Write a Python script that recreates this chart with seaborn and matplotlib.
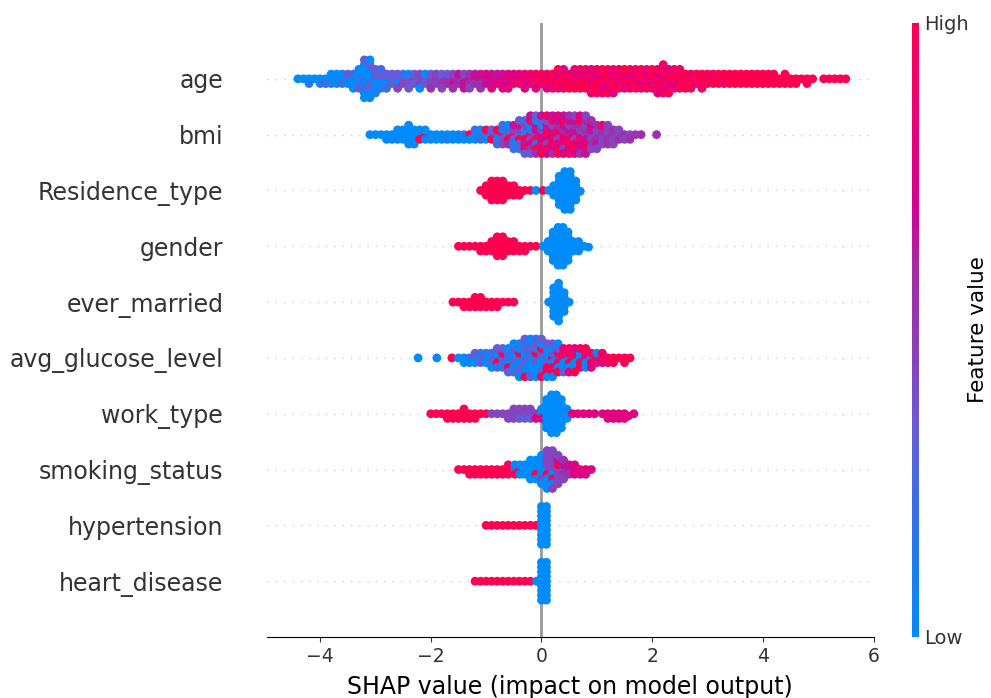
import numpy as np
import matplotlib
matplotlib.use('Agg')
import matplotlib.pyplot as plt
import pandas as pd
import seaborn as sns
from matplotlib.colors import LinearSegmentedColormap, Normalize
from matplotlib.cm import ScalarMappable

# feature names, top row first
features = ['age', 'bmi', 'Residence_type', 'gender', 'ever_married',
            'avg_glucose_level', 'work_type', 'smoking_status', 'hypertension', 'heart_disease']

# each row: shap value of a column, and the feature values (0 low .. 9 high) of the dots in it
age_x = [-4.4, -4.3, -4.2, -4.1, -4.0, -3.9, -3.8, -3.7, -3.6, -3.5,
         -3.4, -3.3, -3.2, -3.1, -3.0, -2.9, -2.8, -2.7, -2.6, -2.5,
         -2.4, -2.3, -2.2, -2.1, -2.0, -1.9, -1.8, -1.7, -1.6, -1.5,
         -1.4, -1.3, -1.2, -1.1, -1.0, -0.9, -0.8, -0.7, -0.6, -0.5,
         -0.4, -0.3, -0.2, -0.1, 0.0, 0.1, 0.2, 0.3, 0.4, 0.5,
         0.6, 0.7, 0.8, 0.9, 1.0, 1.1, 1.2, 1.3, 1.4, 1.5,
         1.6, 1.7, 1.8, 1.9, 2.0, 2.1, 2.2, 2.3, 2.4, 2.5,
         2.6, 2.7, 2.8, 2.9, 3.0, 3.1, 3.2, 3.3, 3.4, 3.5,
         3.6, 3.7, 3.8, 3.9, 4.0, 4.1, 4.2, 4.3, 4.4, 4.5,
         4.6, 4.7, 4.8, 4.9, 5.1, 5.2, 5.3, 5.4, 5.5]
age_v = [[0], [0], [0, 1], [0], [0, 1], [0, 2], [0, 1, 0], [1, 0, 0], [0, 2, 0], [1, 0, 3],
         [0, 0, 2, 0], [0, 1, 0, 3, 0], [3, 0, 0, 2, 0, 1, 0, 0, 3], [0, 2, 0, 3, 0, 1, 3, 0, 0], [2, 0, 3, 0, 3, 1],
         [3, 0, 3, 1, 2], [3, 0, 3, 2], [2, 3, 3], [3, 0, 3, 4], [3, 4, 2],
         [3, 4, 0, 3], [4, 3, 3], [3, 4, 4, 0], [4, 3, 0], [4, 4, 3, 5], [5, 4, 4], [4, 5, 3, 4], [5, 5, 3],
         [5, 6, 4, 5], [5, 5, 6],
         [5, 6, 4, 6], [6, 5, 5, 4], [6, 5, 6], [6, 5, 6, 5], [6, 6, 7], [7, 6, 6, 7], [6, 7, 6], [7, 7, 6, 7],
         [7, 6, 7, 7], [7, 8, 7],
         [7, 8, 7], [8, 7, 8, 7], [8, 7, 8], [8, 9, 8, 7], [8, 8, 9], [8, 9, 8, 7], [9, 8, 9, 8], [8, 9, 7, 8, 9],
         [8, 9, 9, 8, 7], [8, 9, 8, 9],
         [9, 8, 8, 9, 7], [8, 9, 7, 9, 8], [7, 9, 8, 9, 8], [9, 7, 8, 9, 7, 8], [8, 9, 7, 9, 8, 9], [7, 9, 8, 7, 9, 8],
         [9, 8, 9, 7, 8, 9], [8, 9, 7, 9, 8, 7], [9, 7, 8, 9, 8], [7, 9, 8, 7, 9],
         [8, 9, 7, 8, 9], [9, 8, 7, 9, 8], [8, 7, 9, 8, 9], [9, 8, 7, 9, 7], [8, 7, 9, 8, 9], [9, 8, 7, 9, 8, 7],
         [7, 9, 8, 7, 9, 8, 8], [8, 7, 9, 8, 7, 9], [9, 8, 9, 7, 8], [9, 8, 9, 9, 8],
         [8, 9, 9, 9], [9, 9, 8, 9], [9, 8, 9], [9, 9, 9, 8], [8, 9, 9], [9, 9, 8], [9, 9, 9], [9, 8, 9], [9, 9, 9],
         [9, 9, 9],
         [9, 9, 9], [9, 9, 9], [9, 9, 9], [9, 9, 9], [9, 9, 9], [9, 9, 9], [9, 9, 9], [9, 9], [9, 9, 9], [9, 9],
         [9, 9], [9], [9, 9], [9], [9], [9], [9], [9], [9]]

bmi_x = [-3.1, -3.0, -2.9, -2.8, -2.7, -2.6, -2.5, -2.4, -2.3, -2.2,
         -2.1, -2.0, -1.9, -1.8, -1.7, -1.6, -1.5, -1.4, -1.3, -1.2,
         -1.1, -1.0, -0.9, -0.8, -0.7, -0.6, -0.5, -0.4, -0.3, -0.2,
         -0.1, 0.0, 0.1, 0.2, 0.3, 0.4, 0.5, 0.6, 0.7, 0.8,
         0.9, 1.0, 1.1, 1.2, 1.3, 1.4, 1.5, 1.6, 1.7, 1.8, 2.08]
bmi_v = [[0], [0], [0], [0, 0], [0, 0], [0, 0, 0], [0, 0, 0], [0, 0, 0, 0, 0], [0, 0, 0, 0], [0, 9, 0],
         [9, 0, 0], [0, 0], [0, 0], [0, 0], [0, 1], [0, 0], [1, 0], [1, 0], [9, 0], [1, 0, 2],
         [0, 2, 0], [3, 0, 9], [2, 9, 3], [3, 0, 9, 2], [9, 3, 0, 4, 2], [3, 9, 2, 5, 0], [9, 3, 4, 0, 6, 2],
         [0, 9, 4, 3, 7, 2, 3], [3, 9, 0, 6, 4, 9, 2, 3], [9, 4, 2, 7, 0, 5, 9, 3, 6],
         [4, 9, 6, 2, 7, 9, 0, 5, 3], [9, 6, 4, 8, 0, 7, 3, 9, 6], [8, 7, 9, 4, 6, 9, 3, 7, 8],
         [7, 9, 6, 8, 4, 7, 9, 5, 6], [6, 4, 9, 7, 5, 8, 6, 9, 7], [9, 7, 5, 8, 6, 4, 9, 7, 6],
         [5, 8, 6, 9, 4, 7, 6, 8, 5], [7, 4, 6, 8, 5, 9, 6, 7, 4], [6, 8, 4, 7, 5, 6, 9, 5, 7], [4, 6, 5, 7, 4, 8, 5, 6, 4],
         [5, 4, 6, 5, 7, 4, 5], [4, 5, 4, 6, 5, 4], [5, 4, 5, 4, 8], [4, 5, 4, 5, 4], [5, 4, 5, 4], [4, 5, 4], [5, 4],
         [4, 5], [5], [5], [5]]

res_x = [-1.1, -1.0, -0.9, -0.8, -0.7, -0.6, -0.5, -0.4, -0.3, -0.2, -0.1, 0.03, 0.13,
         0.22, 0.32, 0.42, 0.52, 0.62, 0.7]
res_v = [[9], [9, 9, 9], [9] * 5, [9] * 5, [9] * 5, [9] * 3, [9] * 3, [9, 9], [9], [9], [0], [9], [0],
         [0] * 3, [0] * 7, [0] * 9, [0] * 9, [0] * 5, [0] * 1]

gender_x = [-1.5, -1.4, -1.3, -1.2, -1.1, -1.0, -0.9, -0.8, -0.7, -0.6, -0.5, -0.4, -0.3, -0.2, -0.1,
            0.03, 0.12, 0.21, 0.3, 0.39, 0.48, 0.57, 0.67, 0.77, 0.85]
gender_v = [[9], [9], [9], [9], [9, 9], [9, 9], [9] * 3, [9] * 5, [9] * 5, [9] * 3, [9] * 3, [9, 9], [9, 9], [9], [9],
            [0], [0] * 3, [0] * 7, [0] * 9, [0] * 9, [0] * 7, [0] * 3, [0] * 3, [0], [0]]

married_x = [-1.6, -1.5, -1.4, -1.3, -1.2, -1.1, -1.0, -0.9, -0.8, -0.7, -0.6, -0.5, 0.13, 0.22, 0.31, 0.41, 0.5]
married_v = [[9], [9], [9, 9], [9, 9], [9] * 3, [9] * 3, [9, 9], [9, 9], [9, 9], [9], [9], [9],
             [0], [0] * 7, [0] * 9, [0] * 5, [0]]

glucose_x = [-2.23, -1.89, -1.62, -1.5, -1.4, -1.3, -1.2, -1.1, -1.0, -0.9, -0.8, -0.7, -0.6, -0.5, -0.4, -0.3, -0.2,
             -0.1, 0.0, 0.1, 0.2, 0.3, 0.4, 0.5, 0.6, 0.7, 0.8, 0.9, 1.0, 1.1, 1.2, 1.3, 1.4, 1.5, 1.6]
glucose_v = [[0], [0], [9], [0], [0, 0], [2, 0], [3, 0, 3], [0, 3, 2], [3, 0, 1], [0, 3, 2, 0], [3, 9, 0, 2, 3],
             [0, 3, 9, 1, 3], [3, 0, 2, 9, 0, 3], [0, 3, 1, 0, 3, 2, 0], [3, 0, 9, 2, 0, 3, 1, 0],
             [0, 3, 0, 2, 3, 0, 1, 9, 3], [3, 0, 2, 0, 3, 0, 2, 3, 0], [0, 3, 9, 0, 2, 0, 3, 0, 2],
             [2, 0, 3, 0, 9, 3, 0, 9, 3], [0, 3, 0, 9, 0, 8, 3, 0], [9, 0, 3, 8, 0, 9, 3, 0], [0, 9, 8, 0, 3, 9, 0],
             [8, 0, 9, 0, 7, 3], [0, 9, 8, 0, 9, 7], [9, 0, 8, 0, 7, 9], [0, 9, 0, 9, 8], [9, 0, 7, 0, 9], [0, 8, 9, 7],
             [9, 8, 0], [9, 7, 8], [9, 8], [9, 9], [9], [9, 9], [9]]

work_x = [-2.0, -1.9, -1.8, -1.7, -1.6, -1.5, -1.4, -1.3, -1.2, -1.1, -1.0, -0.9, -0.8, -0.7, -0.6, -0.5, -0.4, -0.3,
          -0.2, -0.1, 0.0, 0.09, 0.18, 0.27, 0.36, 0.46, 0.56, 0.66, 0.76, 0.86, 0.96, 1.1, 1.2, 1.3, 1.4, 1.5, 1.57, 1.67]
work_v = [[9], [9], [9], [9, 9], [9, 9], [9, 9], [9, 9, 9], [9, 9], [9, 9], [9], [9], [4], [4], [4], [4, 4], [4, 4, 4],
          [4, 3, 4], [4, 3, 4], [4, 3, 4], [4, 7], [0, 7, 0], [0] * 7, [0] * 9, [0] * 9, [0] * 7, [0] * 3,
          [7], [7], [7], [7], [7], [7], [7, 7], [7, 7], [7, 7], [7, 7], [7], [7]]

smoking_x = [-1.5, -1.4, -1.3, -1.2, -1.1, -1.0, -0.9, -0.8, -0.7, -0.6, -0.48, -0.39, -0.3, -0.2, -0.1, 0.0,
             0.1, 0.2, 0.3, 0.4, 0.5, 0.6, 0.7, 0.8, 0.9]
smoking_v = [[9], [9], [9, 9], [9, 9], [9, 9], [9, 9], [9, 9], [9, 9], [9, 9], [9, 9, 9], [0, 9, 0], [9, 0, 0], [0, 0, 0],
             [0, 0, 0, 0, 0], [0, 9, 0, 0, 0], [0, 0, 0, 4, 0, 0, 0], [0, 9, 4, 0, 4, 0, 4, 0, 4],
             [4, 0, 4, 9, 4, 0, 4, 4, 4], [4, 4, 9, 4, 6, 4, 4], [4, 5, 6, 4, 5], [6, 5, 6], [7, 7, 7], [7, 7], [7, 7], [7]]

hyper_x = [-1.0, -0.9, -0.8, -0.7, -0.6, -0.5, -0.4, -0.3, -0.2, -0.1, 0.0, 0.09]
hyper_v = [[9], [9], [9], [9], [9], [9], [9], [9], [9], [9], [0] * 9, [0] * 9]

heart_x = [-1.2, -1.1, -1.0, -0.9, -0.8, -0.7, -0.6, -0.5, -0.4, -0.3, -0.2, -0.09, 0.0, 0.09]
heart_v = [[9], [9], [9], [9], [9], [9], [9], [9], [9], [9], [9], [0], [0] * 9, [0] * 9]

xs = [age_x, bmi_x, res_x, gender_x, married_x, glucose_x, work_x, smoking_x, hyper_x, heart_x]
vs = [age_v, bmi_v, res_v, gender_v, married_v, glucose_v, work_v, smoking_v, hyper_v, heart_v]

rows = []
for name, col_x, col_v in zip(features, xs, vs):
    for x, vals in zip(col_x, col_v):
        for v in vals:
            rows.append((name, x, v))
df = pd.DataFrame(rows, columns=['feature', 'shap', 'value'])

# same blue to red as the shap colorbar
red_blue = LinearSegmentedColormap.from_list('red_blue', [(0, '#008bfb'), (0.22, '#3a6ee8'), (0.35, '#6e57d4'),
                                                          (0.47, '#8b40b8'), (0.6, '#a828a8'), (0.71, '#d6008f'),
                                                          (1, '#ff0051')])

fig = plt.figure(figsize=(9.91, 6.98), dpi=100)
ax = fig.add_axes([267 / 991, 1 - 637 / 698, (873.5 - 267) / 991, 614 / 698])

ax.axvline(0, color='#999999', lw=2, zorder=-1)
for i in range(len(features)):
    ax.axhline(i, color='#cccccc', lw=1, dashes=(1, 5), zorder=-1)

sns.swarmplot(data=df, x='shap', y='feature', order=features, hue='value', palette=red_blue, hue_norm=(0, 9),
              size=3.24, orient='h', legend=False, warn_thresh=1, ax=ax, zorder=3)
ax.set_xlim(-4.96, 6)
ax.set_ylim(10, -1)

# run the swarm once, then keep the places and grow the dots so they overlap
fig.canvas.draw()
for coll in ax.collections:
    coll.__dict__.pop('draw', None)
    coll.set_sizes([40])

for s in ['left', 'right', 'top']:
    ax.spines[s].set_visible(False)
ax.tick_params(axis='y', length=0, pad=31.5, labelsize=17, labelcolor='#333333')
ax.tick_params(axis='x', labelsize=13.5, labelcolor='#333333', color='#333333')
ax.set_ylabel('')
ax.set_xlabel('SHAP value (impact on model output)', fontsize=17, labelpad=7)

cax = fig.add_axes([912 / 991, 1 - 637 / 698, 7 / 991, 614 / 698])
cb = fig.colorbar(ScalarMappable(Normalize(0, 1), red_blue), cax=cax, ticks=[0, 1])
cb.set_ticklabels(['Low', 'High'])
cb.ax.tick_params(length=0, labelsize=14, pad=4, labelcolor='#333333')
cb.outline.set_visible(False)
cb.set_label('Feature value', fontsize=15.5, labelpad=-1)

plt.savefig('out.png', dpi=100)
